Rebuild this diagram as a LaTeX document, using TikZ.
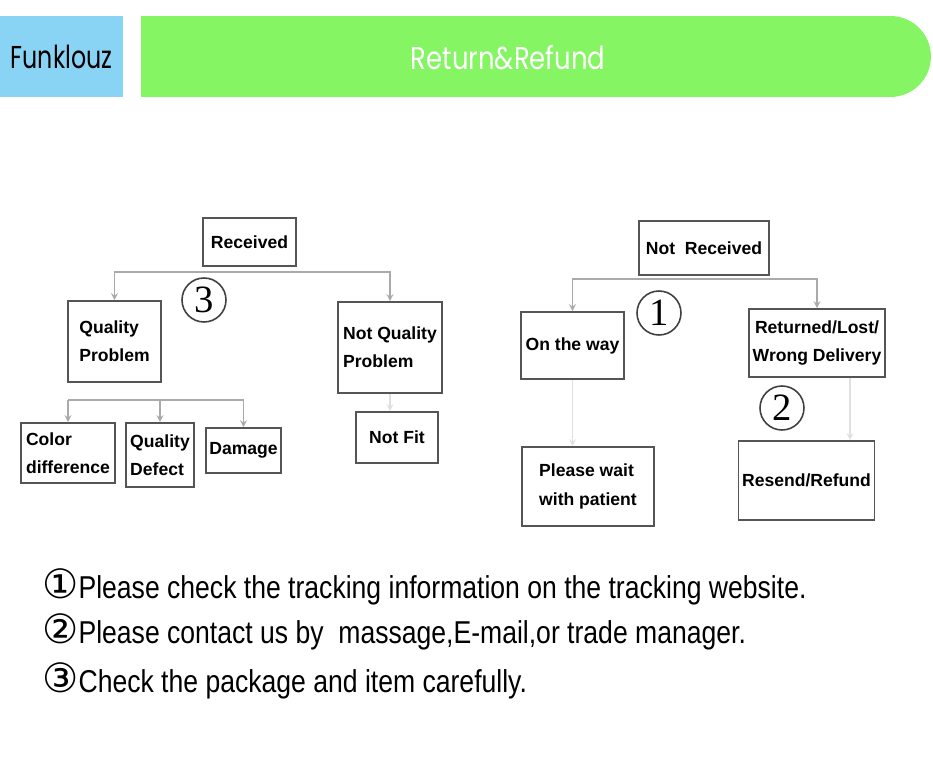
\documentclass[tikz,border=0pt]{standalone}
\usepackage{fontspec}
\usetikzlibrary{arrows, positioning, shapes.misc}
\newfontfamily\headfont[FakeStretch=0.75]{Poppins}
\newfontfamily\titlefont[FakeStretch=0.82]{Poppins}
\newfontfamily\boxfont{Liberation Sans}
\newfontfamily\notefont[FakeStretch=0.84]{Liberation Sans}
\newfontfamily\circfont{DejaVu Sans}
\newfontfamily\numfont{Liberation Serif}
\definecolor{headblue}{RGB}{137,212,245}
\definecolor{headgreen}{RGB}{133,245,99}
\definecolor{boxline}{RGB}{85,85,85}
\definecolor{linkgray}{RGB}{170,170,170}
\tikzset{
  stepbox/.style={draw=boxline, line width=0.9pt, fill=white, align=left, inner sep=2pt,
    font=\boxfont\bfseries\fontsize{10}{16}\selectfont},
  link/.style={draw=linkgray, line width=0.8pt, -stealth},
  faintlink/.style={draw=black!12, line width=0.8pt, -stealth},
  numcircle/.style={draw=black!75, line width=0.9pt, circle, minimum size=0.88cm, inner sep=0pt,
    font=\numfont\fontsize{22}{22}\selectfont},
  noteline/.style={anchor=base west, inner sep=0pt, font=\notefont\fontsize{18}{20}\selectfont}
}
\newcommand{\circnum}[1]{{\circfont\fontsize{23}{23}\selectfont #1}}

\begin{document}
\begin{tikzpicture}[x=0.02cm, y=-0.02cm]
	\useasboundingbox (0,0) rectangle (933,783);
	% header
	\node[fill=headblue, minimum width=2.46cm, minimum height=1.62cm, inner sep=0pt,
		font=\headfont\fontsize{18}{18}\selectfont] (brand) at (61.5,56.5) {Funklouz};
	\node[fill=headgreen, rounded rectangle, rounded rectangle west arc=none,
		minimum width=15.8cm, minimum height=1.62cm, inner sep=0pt] (titlebar) at (536,56.5) {};
	\node[text=white, inner sep=0pt, font=\titlefont\fontsize{18}{18}\selectfont] (title) at (508,58) {Return\&Refund};
	% received tree
	\node[stepbox, minimum width=1.86cm, minimum height=0.96cm] (recv) at (249.5,242) {Received};
	\node[stepbox, minimum width=1.86cm, minimum height=1.62cm] (qp) at (114.5,341.5) {Quality\\Problem};
	\node[stepbox, minimum width=2.08cm, minimum height=1.82cm] (nqp) at (390,347.5) {Not Quality\\Problem};
	\node[stepbox, minimum width=1.88cm, minimum height=1.2cm] (cd) at (68,453) {Color\\difference};
	\node[stepbox, minimum width=1.36cm, minimum height=1.28cm] (qd) at (160,455) {Quality\\Defect};
	\node[stepbox, minimum width=1.46cm, minimum height=0.9cm] (dm) at (243.5,450.5) {Damage};
	\node[stepbox, minimum width=1.64cm, minimum height=1.02cm] (nf) at (397,437.5) {Not Fit};
	\node[numcircle] (c3) at (204,300) {3};
	% not received tree
	\node[stepbox, minimum width=2.6cm, minimum height=1.08cm] (nrecv) at (704,248) {Not\ \ Received};
	\node[stepbox, minimum width=2.06cm, minimum height=1.34cm] (way) at (572.5,345.5) {On the way};
	\node[stepbox, align=center, minimum width=2.68cm, minimum height=1.36cm] (rlw) at (817,343) {Returned/Lost/\\Wrong Delivery};
	\node[stepbox, minimum width=2.64cm, minimum height=1.58cm] (wait) at (588,486.5) {Please wait\\with patient};
	\node[stepbox, minimum width=2.7cm, minimum height=1.58cm] (resend) at (806.5,480.5) {Resend/Refund};
	\node[numcircle] (c1) at (659,313) {1};
	\node[numcircle] (c2) at (782,408) {2};
	% connectors
	\coordinate (rfork) at (recv.south |- 0,272);
	\draw[link] (rfork) -| (qp.north);
	\draw[link] (rfork) -| (nqp.north);
	\coordinate (qpfork) at (cd.north |- 0,400);
	\draw[link] (qpfork) -- (cd.north);
	\draw[link] (qpfork) -| (qd.north);
	\draw[link] (qpfork) -| (dm.north);
	\draw[faintlink] (nqp.south) -- (nqp.south |- nf.north);
	\coordinate (nrfork) at (nrecv.south |- 0,279);
	\draw[link] (nrfork) -| (way.north);
	\draw[link] (nrfork) -| (rlw.north);
	\draw[faintlink] (way.south) -- (way.south |- wait.north);
	\draw[faintlink] (rlw.south -| 850,0) -- (850,0 |- resend.north);
	% notes
	\node[noteline] (note1) at (42,598) {\circnum{①}Please check the tracking information on the tracking website.};
	\node[noteline] (note2) at (42,643) {\circnum{②}Please contact us by\ \ massage,E-mail,or trade manager.};
	\node[noteline] (note3) at (42,692) {\circnum{③}Check the package and item carefully.};
\end{tikzpicture}
\end{document}
